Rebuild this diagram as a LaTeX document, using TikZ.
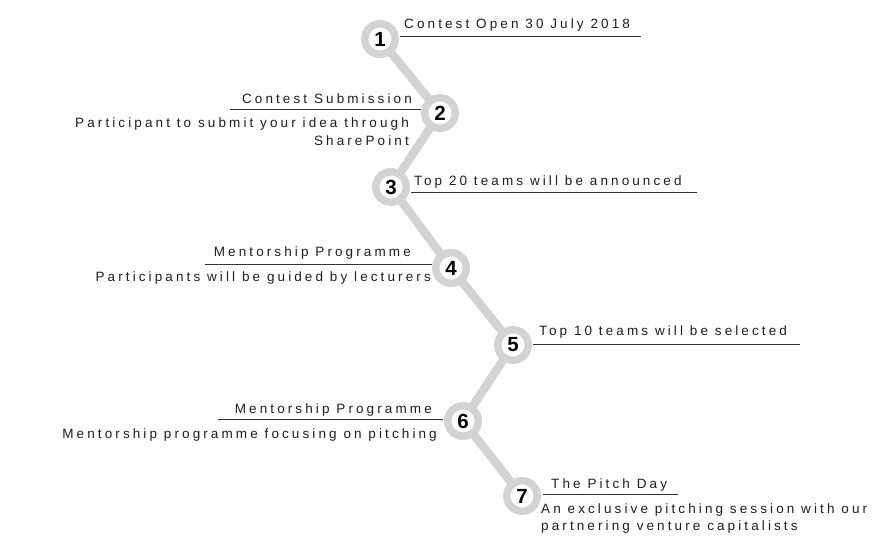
\documentclass[tikz,border=0pt]{standalone}
\usepackage{fontspec}
\setmainfont{Liberation Sans}
\newfontfamily\trk[LetterSpace=23]{Liberation Sans}
\definecolor{ringgray}{HTML}{D3D3D3}
\definecolor{inkline}{HTML}{333333}
\definecolor{inktext}{HTML}{1E1E1E}
\begin{document}
\begin{tikzpicture}[x=1pt,y=-1pt,
  stepnode/.style={circle, draw=ringgray, line width=7.5pt, fill=white, minimum size=30.5pt, inner sep=0pt, text=black, font=\bfseries\fontsize{20.5}{20.5}\selectfont},
  link/.style={draw=ringgray, line width=8.5pt},
  uline/.style={draw=inkline, line width=1pt},
  lbl/.style={inner sep=0pt, text=inktext, font=\trk\fontsize{13.5}{16}\selectfont}]
\useasboundingbox (0,0) rectangle (895,551);
% circle positions
\coordinate (p1) at (380,39);
\coordinate (p2) at (440,113);
\coordinate (p3) at (391,187);
\coordinate (p4) at (451,268);
\coordinate (p5) at (513,345);
\coordinate (p6) at (463,421);
\coordinate (p7) at (522,496);
\draw[link] (p1) -- (p2) -- (p3) -- (p4) -- (p5) -- (p6) -- (p7);
\node[stepnode] (c1) at (p1) {1};
\node[stepnode] (c2) at (p2) {2};
\node[stepnode] (c3) at (p3) {3};
\node[stepnode] (c4) at (p4) {4};
\node[stepnode] (c5) at (p5) {5};
\node[stepnode] (c6) at (p6) {6};
\node[stepnode] (c7) at (p7) {7};
% underlines
\coordinate (u1) at (641,37);
\coordinate (u2) at (230,110);
\coordinate (u3) at (697,192);
\coordinate (u4) at (205,264);
\coordinate (u5) at (800,344);
\coordinate (u6) at (218,419);
\coordinate (u7) at (678,494);
\draw[uline] (400,37) -- (u1);
\draw[uline] (u2) -- (421,110);
\draw[uline] (411,192) -- (u3);
\draw[uline] (u4) -- (432,264);
\draw[uline] (533,344) -- (u5);
\draw[uline] (u6) -- (443,419);
\draw[uline] (543,494) -- (u7);
% labels
\node[lbl, anchor=base west] (t1) at (404,29) {Contest Open 30 July 2018};
\node[lbl, anchor=base east] (t2) at (412,103) {Contest Submission};
\node[lbl, anchor=base east] (d2a) at (409,128) {Participant to submit your idea through};
\node[lbl, anchor=base east] (d2b) at (409,146) {SharePoint};
\node[lbl, anchor=base west] (t3) at (414,185) {Top 20 teams will be announced};
\node[lbl, anchor=base east] (t4) at (411,256) {Mentorship Programme};
\node[lbl, anchor=base east] (d4) at (431,281) {Participants will be guided by lecturers};
\node[lbl, anchor=base west] (t5) at (539,335) {Top 10 teams will be selected};
\node[lbl, anchor=base east] (t6) at (432,413) {Mentorship Programme};
\node[lbl, anchor=base east] (d6) at (437,438) {Mentorship programme focusing on pitching};
\node[lbl, anchor=base west] (t7) at (551,488) {The Pitch Day};
\node[lbl, anchor=base west] (d7a) at (541,513) {An exclusive pitching session with our};
\node[lbl, anchor=base west] (d7b) at (541,530) {partnering venture capitalists};
\end{tikzpicture}
\end{document}
